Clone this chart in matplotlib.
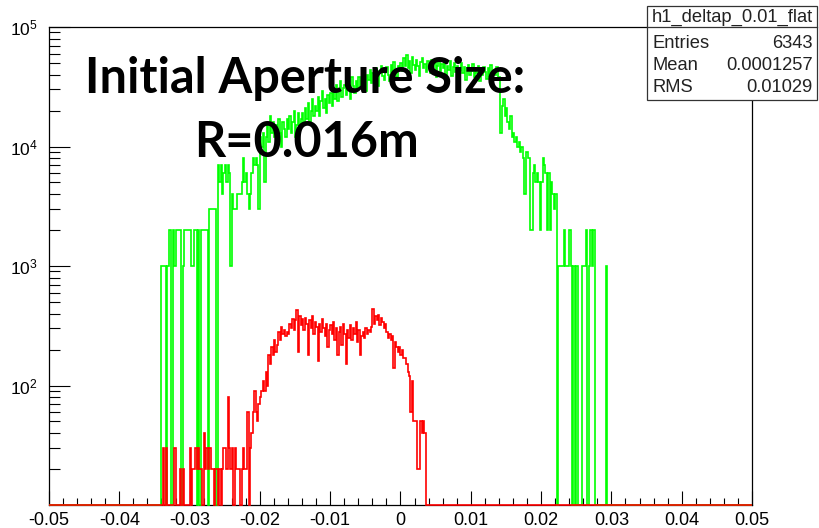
import numpy as np
import matplotlib
matplotlib.use("Agg")
import matplotlib.pyplot as plt
from matplotlib.patches import Rectangle
from matplotlib.lines import Line2D
from matplotlib.ticker import FixedLocator, FixedFormatter, LogLocator, NullFormatter

plt.rcParams['font.family'] = 'Liberation Sans'
plt.rcParams['mathtext.fontset'] = 'custom'
plt.rcParams['mathtext.rm'] = 'Liberation Sans'
plt.rcParams['mathtext.default'] = 'regular'

# binning of both histograms: 500 bins over [-0.05, 0.05]
n_bins = 500
x_lo, x_hi = -0.05, 0.05
y_lo, y_hi = 10, 1e5
first_bin = 80

# green histogram, entries per bin starting at bin 80 (weight 1000)
green_w = 1000
green_counts = [
    1, 1, 1, 0, 1, 2, 2, 0, 2, 1,
    2, 2, 2, 2, 0, 1, 2, 2, 2, 2,
    2, 1, 1, 2, 2, 0, 2, 0, 2, 2,
    2, 2, 2, 0, 3, 3, 3, 3, 3, 0,
    7, 5, 7, 4, 6, 7, 5, 7, 6, 1,
    4, 3, 3, 3, 4, 4, 4, 5, 8, 5,
    6, 4, 3, 4, 6, 8, 7, 8, 7, 3,
    12, 10, 13, 5, 12, 15, 11, 18, 13, 16,
    12, 15, 11, 17, 13, 10, 16, 14, 12, 17,
    14, 18, 13, 16, 20, 12, 15, 19, 14, 17,
    19, 15, 21, 17, 23, 16, 20, 25, 18, 22,
    20, 26, 18, 24, 29, 21, 25, 19, 27, 23,
    28, 22, 30, 25, 33, 24, 29, 35, 26, 31,
    33, 27, 36, 30, 25, 38, 32, 28, 35, 30,
    38, 31, 35, 42, 33, 29, 40, 36, 44, 34,
    41, 35, 45, 38, 32, 43, 47, 39, 36, 44,
    46, 40, 35, 48, 43, 51, 42, 38, 47, 44,
    50, 43, 55, 47, 58, 45, 52, 41, 56, 48,
    44, 53, 47, 39, 51, 55, 45, 49, 42, 52,
    48, 41, 53, 46, 50, 38, 47, 54, 43, 49,
    45, 51, 40, 47, 44, 52, 39, 46, 50, 42,
    47, 39, 44, 50, 41, 46, 36, 45, 48, 40,
    43, 49, 38, 45, 41, 47, 35, 44, 40, 46,
    42, 37, 45, 39, 48, 36, 43, 40, 46, 38,
    38, 13, 22, 25, 18, 21, 16, 14, 18, 12,
    13, 11, 12, 10, 11, 9, 10, 8, 4, 9,
    9, 8, 2, 2, 6, 7, 5, 6, 5, 2,
    5, 8, 7, 6, 2, 6, 2, 5, 4, 3,
    4, 0, 1, 1, 1, 1, 2, 1, 1, 1,
    2, 1, 0, 1, 0, 1, 0, 0, 0, 1,
    1, 1, 2, 0, 1, 2, 1, 2, 0, 0,
    0, 0, 0, 0, 0, 0, 1,
]

# red histogram, entries per bin starting at bin 80 (weight 10)
red_w = 10
red_counts = [
    0, 3, 1, 3, 0, 1, 0, 1, 0, 3,
    1, 0, 1, 2, 0, 2, 1, 0, 1, 0,
    3, 1, 2, 2, 3, 2, 3, 2, 2, 1,
    4, 2, 3, 2, 3, 2, 2, 1, 2, 2,
    1, 2, 1, 2, 3, 3, 2, 8, 3, 2,
    3, 1, 3, 2, 2, 2, 1, 2, 3, 2,
    2, 6, 1, 3, 4, 6, 9, 6, 5, 7,
    8, 9, 11, 9, 13, 10, 18, 15, 21, 18,
    24, 19, 22, 28, 24, 31, 27, 29, 26, 28,
    27, 33, 30, 36, 29, 35, 43, 19, 38, 32,
    36, 29, 37, 33, 18, 35, 30, 38, 27, 34,
    31, 16, 33, 28, 36, 30, 26, 33, 21, 29,
    32, 27, 34, 24, 30, 18, 28, 31, 22, 33,
    27, 15, 29, 25, 32, 24, 30, 27, 34, 23,
    29, 18, 26, 28, 25, 30, 27, 29, 28, 31,
    44, 33, 38, 35, 39, 32, 37, 34, 30, 33,
    28, 25, 27, 24, 26, 14, 23, 21, 19, 21,
    18, 20, 17, 17, 15, 13, 12, 6, 11, 5,
    5, 5, 2, 2, 5, 4, 5, 4,
]

stats_title = "h1_deltap_0.01_flat"
stats_names = ["Entries", "Mean", "RMS"]
stats_values = ["6343", "0.0001257", "0.01029"]

xticks = [-0.05, -0.04, -0.03, -0.02, -0.01, 0, 0.01, 0.02, 0.03, 0.04, 0.05]
xtick_labels = ["-0.05", "-0.04", "-0.03", "-0.02", "-0.01", "0",
                "0.01", "0.02", "0.03", "0.04", "0.05"]
yticks = [1e2, 1e3, 1e4, 1e5]
ytick_labels = ["$10^{2}$", "$10^{3}$", "$10^{4}$", "$10^{5}$"]

title_lines = ["Initial Aperture Size:", "R=0.016m"]

edges = np.linspace(x_lo, x_hi, n_bins + 1)
green = np.zeros(n_bins)
green[first_bin:first_bin + len(green_counts)] = np.array(green_counts) * green_w
red = np.zeros(n_bins)
red[first_bin:first_bin + len(red_counts)] = np.array(red_counts) * red_w

W, H = 820, 528
fig = plt.figure(figsize=(W / 100, H / 100), dpi=100)
fig.patch.set_facecolor('white')
ax = fig.add_axes([49 / W, 23 / H, 703 / W, 478 / H])

# empty bins sit on the lower edge of the log axis, as ROOT draws them
ax.stairs(np.maximum(green, y_lo), edges, baseline=None, color='#00ff00',
          lw=1.2, clip_on=False, zorder=3)
ax.stairs(np.maximum(red, y_lo), edges, baseline=None, color='#ff0000',
          lw=1.2, clip_on=False, zorder=4)

ax.set_xlim(x_lo, x_hi)
ax.set_yscale('log')
ax.set_ylim(y_lo, y_hi)

ax.xaxis.set_major_locator(FixedLocator(xticks))
ax.xaxis.set_major_formatter(FixedFormatter(xtick_labels))
ax.xaxis.set_minor_locator(FixedLocator(np.arange(-0.05, 0.0501, 0.002)))
ax.yaxis.set_major_locator(FixedLocator(yticks))
ax.yaxis.set_major_formatter(FixedFormatter(ytick_labels))
ax.yaxis.set_minor_locator(LogLocator(base=10, subs=np.arange(2, 10)))
ax.yaxis.set_minor_formatter(NullFormatter())

ax.tick_params(axis='x', which='major', direction='in', length=10, width=0.8,
               labelsize=13, pad=5, top=False)
ax.tick_params(axis='x', which='minor', direction='in', length=5, width=0.8, top=False)
ax.tick_params(axis='y', which='major', direction='in', length=15, width=0.8,
               labelsize=12.5, pad=8, right=False)
ax.tick_params(axis='y', which='minor', direction='in', length=8, width=0.8, right=False)
for s in ax.spines.values():
    s.set_linewidth(0.9)
    s.set_color('black')

# big annotation over the histograms
fig.text(305 / W, 1 - 93 / H, title_lines[0], ha='center', va='baseline',
         fontsize=35, fontweight='bold', family='Lato', color='black', zorder=5)
fig.text(307 / W, 1 - 157 / H, title_lines[1], ha='center', va='baseline',
         fontsize=35, fontweight='bold', family='Lato', color='black', zorder=5)

# statistics box in the top right corner
bx0, bx1, by0, by1, bsep = 647, 817, 6, 100, 27
fig.add_artist(Rectangle((bx0 / W, 1 - by1 / H), (bx1 - bx0) / W, (by1 - by0) / H,
                         transform=fig.transFigure, facecolor='white',
                         edgecolor='#333333', lw=0.9, zorder=6))
fig.add_artist(Line2D([bx0 / W, bx1 / W], [1 - bsep / H, 1 - bsep / H],
                      transform=fig.transFigure, color='#333333', lw=0.9, zorder=7))
fig.text((bx0 + bx1) / 2 / W, 1 - 17 / H, stats_title, ha='center', va='center',
         fontsize=13.2, color='#222222', zorder=8)
for k, (name, val) in enumerate(zip(stats_names, stats_values)):
    yy = 1 - (44 + 21.5 * k) / H
    fig.text(653 / W, yy, name, ha='left', va='center', fontsize=13.2,
             color='#222222', zorder=8)
    fig.text(813 / W, yy, val, ha='right', va='center', fontsize=13.2,
             color='#222222', zorder=8)

fig.savefig('out.png', dpi=100)
